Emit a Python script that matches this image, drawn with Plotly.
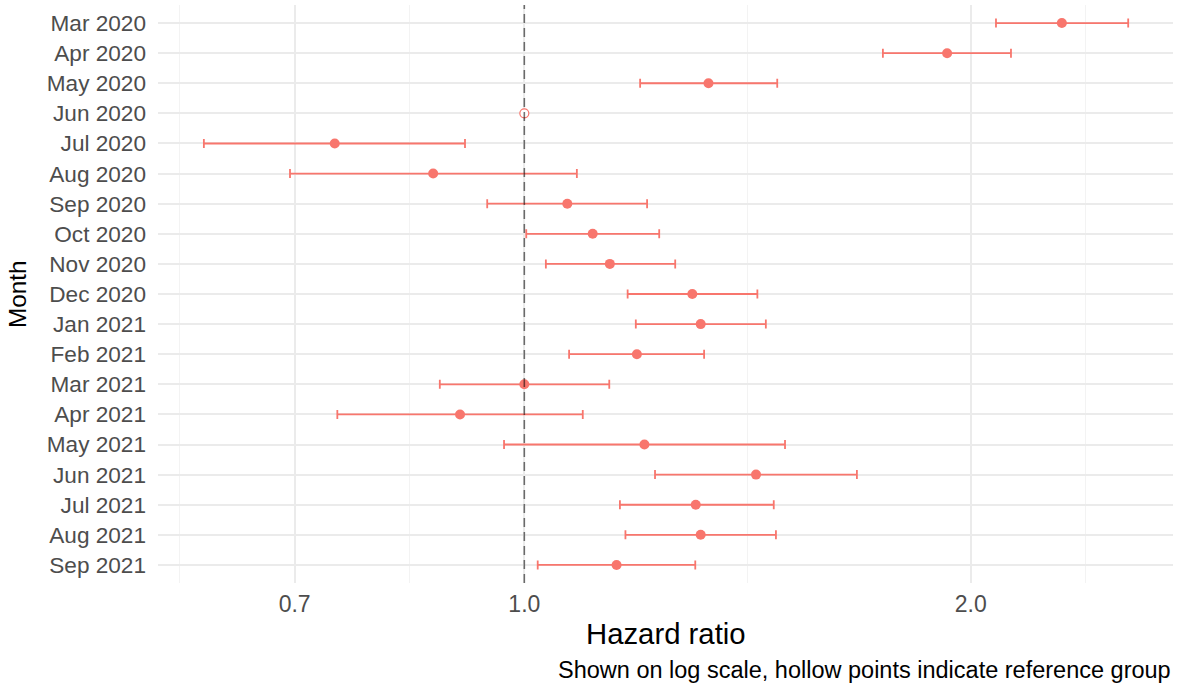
import math
import plotly.graph_objects as go

months = ["Mar 2020", "Apr 2020", "May 2020", "Jun 2020", "Jul 2020", "Aug 2020",
          "Sep 2020", "Oct 2020", "Nov 2020", "Dec 2020", "Jan 2021", "Feb 2021",
          "Mar 2021", "Apr 2021", "May 2021", "Jun 2021", "Jul 2021", "Aug 2021",
          "Sep 2021"]
hr = [2.304, 1.928, 1.331, 1.000, 0.745, 0.868, 1.069, 1.112, 1.142, 1.298, 1.315,
      1.191, 1.000, 0.905, 1.205, 1.433, 1.305, 1.315, 1.154]
lower = [2.080, 1.745, 1.197, None, 0.608, 0.695, 0.944, 1.003, 1.034, 1.174, 1.189,
         1.072, 0.877, 0.748, 0.969, 1.225, 1.160, 1.170, 1.021]
upper = [2.554, 2.129, 1.481, None, 0.912, 1.085, 1.210, 1.233, 1.264, 1.436, 1.455,
         1.322, 1.141, 1.095, 1.499, 1.676, 1.473, 1.478, 1.304]
is_reference = [False, False, False, True, False, False, False, False, False, False,
                False, False, False, False, False, False, False, False, False]
x_ticks = [0.7, 1.0, 2.0]
x_tick_labels = ["0.7", "1.0", "2.0"]
REF_HR = 1.0

COL = "#F8766D"

est_idx = [i for i, r in enumerate(is_reference) if not r]
ref_idx = [i for i, r in enumerate(is_reference) if r]

fig = go.Figure()
fig.add_trace(go.Scatter(
    x=[hr[i] for i in est_idx],
    y=[months[i] for i in est_idx],
    mode="markers",
    marker=dict(color=COL, size=10),
    error_x=dict(type="data", symmetric=False,
                 array=[upper[i] - hr[i] for i in est_idx],
                 arrayminus=[hr[i] - lower[i] for i in est_idx],
                 color=COL, thickness=1.8, width=4.5),
    showlegend=False,
    hoverinfo="x+y",
))
fig.add_trace(go.Scatter(
    x=[hr[i] for i in ref_idx],
    y=[months[i] for i in ref_idx],
    mode="markers",
    marker=dict(color="white", size=9, line=dict(color=COL, width=1.2)),
    showlegend=False,
    hoverinfo="x+y",
))
# reference line at HR = 1, spanning the full panel height (overlay axis 0..1)
fig.add_trace(go.Scatter(
    x=[REF_HR, REF_HR], y=[0, 1], yaxis="y2",
    mode="lines",
    line=dict(color="rgba(0,0,0,0.55)", width=1.6, dash="9px,5px"),
    showlegend=False, hoverinfo="skip",
))

# ggplot-style minor breaks: midpoints in log space, extended by the first gap
lb = [math.log10(v) for v in x_ticks]
d0 = lb[1] - lb[0]
ext = [lb[0] - d0] + lb + [lb[-1] + d0]
minor_vals = [10 ** ((a + b) / 2) for a, b in zip(ext[:-1], ext[1:])]

xmin, xmax = 0.5662, 2.738
n = len(months)

fig.update_layout(
    width=1182, height=686,
    margin=dict(l=158, r=9, t=5, b=103),
    paper_bgcolor="white", plot_bgcolor="white",
    font=dict(family="Liberation Sans, Arial, sans-serif"),
    xaxis=dict(
        type="log",
        range=[math.log10(xmin), math.log10(xmax)],
        tickmode="array", tickvals=x_ticks, ticktext=x_tick_labels,
        tickfont=dict(size=23, color="#4D4D4D"),
        showgrid=True, gridcolor="#EBEBEB", gridwidth=1.8,
        zeroline=False, showline=False, ticks="",
        ticklabelstandoff=5,
        minor=dict(tickmode="array", tickvals=minor_vals, showgrid=True,
                   gridcolor="#F3F3F3", gridwidth=1, ticks=""),
    ),
    yaxis=dict(
        type="category",
        categoryorder="array", categoryarray=months,
        range=[n - 1 + 0.6, -0.6],
        tickfont=dict(size=22.6, color="#4D4D4D"),
        showgrid=True, gridcolor="#EBEBEB", gridwidth=1.8,
        zeroline=False, showline=False, ticks="",
        ticklabelstandoff=11,
    ),
    yaxis2=dict(overlaying="y", range=[0, 1], visible=False, fixedrange=True),
    annotations=[
        dict(text="Hazard ratio", xref="paper", yref="paper", x=0.5, y=0,
             xanchor="center", yanchor="middle", yshift=-50, showarrow=False,
             font=dict(size=29.3, color="black")),
        dict(text="Shown on log scale, hollow points indicate reference group",
             xref="paper", yref="paper", x=1, y=0, xanchor="right",
             yanchor="middle", yshift=-87, showarrow=False,
             font=dict(size=23.5, color="black")),
        dict(text="Month", xref="paper", yref="paper", x=0, y=0.5,
             xanchor="center", yanchor="middle", xshift=-141, textangle=-90,
             showarrow=False, font=dict(size=24.3, color="black")),
    ],
)

fig.write_html("out.html", config={"displayModeBar": False},
               post_script="document.body.style.margin='0';")
